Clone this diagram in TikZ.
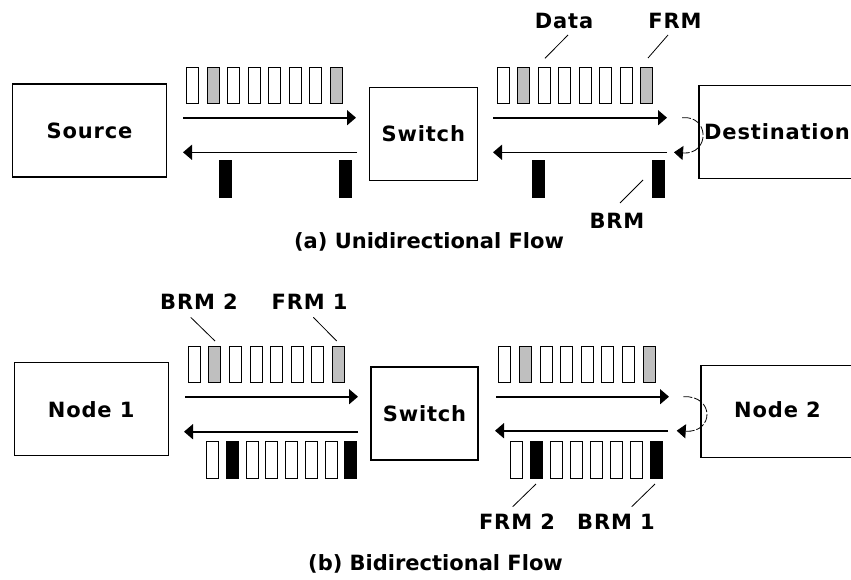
\documentclass[tikz,border=0pt]{standalone}
\usepackage{fontspec}
\setmainfont{DejaVu Sans}
\newfontfamily\labfam[LetterSpace=4]{DejaVu Sans}
\usetikzlibrary{arrows.meta}
\newcommand\labfont{\labfam\fontsize{21}{24}\selectfont\bfseries}
\newcommand\capfont{\fontsize{21}{24}\selectfont\bfseries}
\tikzset{
  box/.style={draw, line width=1.3pt, inner sep=0pt, font=\labfont},
  cell/.style={draw, line width=1pt, minimum width=12pt, minimum height=36pt, inner sep=0pt, outer sep=0pt},
  gcell/.style={cell, fill=black!25},
  bcell/.style={cell, fill=black},
  bar/.style={draw, fill=black, line width=0.8pt, minimum width=12pt, minimum height=37pt, inner sep=0pt},
  flow/.style={line width=1.6pt, -{Triangle[length=9pt,width=15pt]}},
  loopback/.style={line width=0.8pt, dash pattern=on 9pt off 2pt, -{Triangle[length=9pt,width=14pt]}},
  lead/.style={line width=0.8pt},
  lab/.style={font=\labfont, inner sep=0pt, anchor=base},
  captext/.style={font=\capfont, inner sep=0pt, anchor=base},
}
\begin{document}
\begin{tikzpicture}[x=1pt,y=-1pt]
\useasboundingbox (0,0) rectangle (851,579);
% ---------- (a) ----------
\node[box, minimum width=154pt, minimum height=93pt] (src) at (89.5,130.4) {Source};
\node[box, minimum width=108pt, minimum height=93pt] (swa) at (423.3,133.7) {Switch};
\node[box, minimum width=180pt, minimum height=93pt] (dst) at (789,131.7) {};
\node[lab, anchor=base west] (dstl) at (704,139) {Destination};

\foreach \i/\s in {0/cell,1/gcell,2/cell,3/cell,4/cell,5/cell,6/cell,7/gcell}{
  \node[\s] (aL\i) at ({192.5+20.54*\i},85) {};
  \node[\s] (aR\i) at ({503.5+20.47*\i},85) {};
}
\node[bar] (aLb1) at (225.3,179) {};
\node[bar] (aLb2) at (345.7,179) {};
\node[bar] (aRb1) at (538,179) {};
\node[bar] (aRb2) at (658,179) {};

\coordinate (aLf1) at (183,117.7); \coordinate (aLf2) at (356,117.7);
\coordinate (aLk1) at (357,152.3); \coordinate (aLk2) at (183,152.3);
\coordinate (aRf1) at (493,117.7); \coordinate (aRf2) at (667,117.7);
\coordinate (aRk1) at (667,152.3); \coordinate (aRk2) at (493,152.3);
\draw[flow] (aLf1) -- (aLf2);
\draw[flow] (aLk1) -- (aLk2);
\draw[flow] (aRf1) -- (aRf2);
\draw[flow] (aRk1) -- (aRk2);
\coordinate (aRs) at (682,117.7); \coordinate (aRe) at (674,152.3);
\draw[loopback] (aRs) .. controls (710,115) and (710,155) .. (aRe);

\node[lab] (data) at (564,28.5) {Data};
\node[lab] (frm) at (675,28.5) {FRM};
\node[lab] (brm) at (617,228) {BRM};
\coordinate (dataA) at (568,35); \coordinate (dataB) at (545,58.3);
\coordinate (frmA) at (668,35); \coordinate (frmB) at (648,58);
\coordinate (brmA) at (643,180); \coordinate (brmB) at (620,203);
\draw[lead] (dataA) -- (dataB);
\draw[lead] (frmA) -- (frmB);
\draw[lead] (brmA) -- (brmB);

\node[captext] (capa) at (429,248) {(a) Unidirectional Flow};

% ---------- (b) ----------
\node[box, minimum width=154pt, minimum height=93pt] (n1) at (91.2,409.2) {Node 1};
\node[box, minimum width=107pt, minimum height=93pt] (swb) at (424.5,413.4) {Switch};
\node[box, minimum width=180pt, minimum height=92pt] (n2) at (791,411.2) {};
\node[lab, anchor=center] (n2l) at (777.5,410) {Node 2};

\foreach \i/\s in {0/cell,1/gcell,2/cell,3/cell,4/cell,5/cell,6/cell,7/gcell}{
  \node[\s] (bLt\i) at ({194.2+20.61*\i},364) {};
  \node[\s] (bRt\i) at ({504.8+20.63*\i},364) {};
}
\foreach \i/\s in {0/cell,1/bcell,2/cell,3/cell,4/cell,5/cell,6/cell,7/bcell}{
  \node[\s, minimum height=37pt] (bLb\i) at ({212.5+19.76*\i},460.4) {};
  \node[\s, minimum height=37pt] (bRb\i) at ({516.7+20*\i},460.4) {};
}

\coordinate (bLf1) at (185,396.7); \coordinate (bLf2) at (358,396.7);
\coordinate (bLk1) at (358,431.7); \coordinate (bLk2) at (184,431.7);
\coordinate (bRf1) at (496,396.7); \coordinate (bRf2) at (669,396.7);
\coordinate (bRk1) at (668,430.7); \coordinate (bRk2) at (495,430.7);
\draw[flow] (bLf1) -- (bLf2);
\draw[flow] (bLk1) -- (bLk2);
\draw[flow] (bRf1) -- (bRf2);
\draw[flow] (bRk1) -- (bRk2);
\coordinate (bRs) at (683.3,396.7); \coordinate (bRe) at (676.7,430.7);
\draw[loopback] (bRs) .. controls (714.5,395) and (714.5,433) .. (bRe);

\node[lab] (brm2) at (199,309) {BRM 2};
\node[lab] (frm1) at (309.6,309) {FRM 1};
\node[lab] (frm2) at (517,529) {FRM 2};
\node[lab] (brm1) at (616,529) {BRM 1};
\coordinate (brm2A) at (190.7,317.3); \coordinate (brm2B) at (215,341);
\coordinate (frm1A) at (313.3,317.3); \coordinate (frm1B) at (336.7,341);
\coordinate (frm2A) at (536,484); \coordinate (frm2B) at (512.7,506.7);
\coordinate (brm1A) at (655,484); \coordinate (brm1B) at (631.7,506.7);
\draw[lead] (brm2A) -- (brm2B);
\draw[lead] (frm1A) -- (frm1B);
\draw[lead] (frm2A) -- (frm2B);
\draw[lead] (brm1A) -- (brm1B);

\node[captext] (capb) at (435.5,570) {(b) Bidirectional Flow};
\end{tikzpicture}
\end{document}
